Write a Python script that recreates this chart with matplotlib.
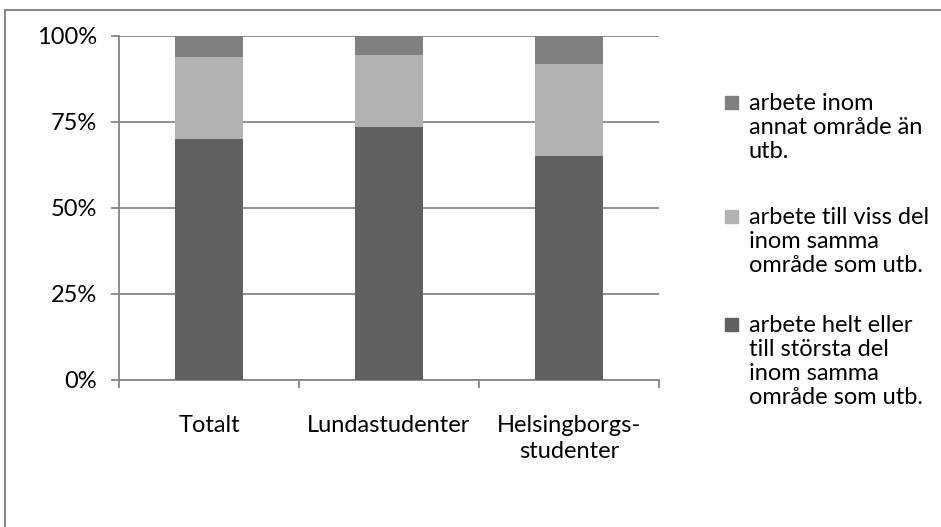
import matplotlib.pyplot as plt
from matplotlib.patches import Rectangle

categories = ["Totalt", "Lundastudenter", "Helsingborgs-\nstudenter"]
# share in percent, bottom to top
helt = [70.0, 73.5, 65.0]
viss = [24.0, 21.0, 27.0]
annat = [6.0, 5.5, 8.0]
labels = ["arbete helt eller\ntill största del\ninom samma\nområde som utb.",
          "arbete till viss del\ninom samma\nområde som utb.",
          "arbete inom\nannat område än\nutb."]
colors = ["#606060", "#b2b2b2", "#7f817f"]
yticks = [0, 25, 50, 75, 100]

plt.rcParams["font.family"] = ["Lato", "DejaVu Sans"]
fs = 17
grid_c = "#868686"
W, H = 941, 527

fig = plt.figure(figsize=(9.41, 5.27), dpi=100)
ax = fig.add_axes([119 / W, 1 - 380 / H, 540 / W, 344 / H])

x = range(len(categories))
w = 0.38
ax.bar(x, helt, w, color=colors[0], zorder=3)
ax.bar(x, viss, w, bottom=helt, color=colors[1], zorder=3)
bot = [a + b for a, b in zip(helt, viss)]
ax.bar(x, annat, w, bottom=bot, color=colors[2], zorder=3)

ax.set_xlim(-0.5, 2.5)
ax.set_ylim(0, 100)
ax.set_yticks(yticks)
ax.set_yticklabels([f"{v}%" for v in yticks], fontsize=fs)
ax.set_xticks([-0.5, 0.5, 1.5, 2.5])
ax.set_xticklabels([])
ax.set_xticks(list(x), minor=True)
ax.set_xticklabels(categories, minor=True, fontsize=fs, linespacing=1.3)
ax.tick_params(axis="x", which="minor", length=0, pad=25)
ax.tick_params(axis="both", which="major", color=grid_c, length=6, width=1.3)
ax.tick_params(axis="y", pad=10)
ax.grid(axis="y", color=grid_c, linewidth=1.3, zorder=0)
for s in ["top", "right"]:
    ax.spines[s].set_visible(False)
for s in ["left", "bottom"]:
    ax.spines[s].set_color(grid_c)
    ax.spines[s].set_linewidth(1.3)

# legend, drawn by hand so the swatch sits on the first text line
entry_top = [103, 217, 325]
for (lab, col), y0 in zip(list(zip(labels, colors))[::-1], entry_top):
    fig.patches.append(Rectangle((725 / W, 1 - (y0 + 6) / H), 13 / W, 13 / H,
                                 transform=fig.transFigure, color=col))
    for i, line in enumerate(lab.split("\n")):
        fig.text(749 / W, 1 - (y0 + 24 * i) / H, line, fontsize=fs,
                 va="center", ha="left")

# outer chart frame
fig.patches.append(Rectangle((5 / W, -0.05), 1.0, 1 - 10 / H + 0.05,
                             transform=fig.transFigure, fill=False,
                             edgecolor=grid_c, linewidth=1.5))

fig.savefig("out.png", dpi=100)
